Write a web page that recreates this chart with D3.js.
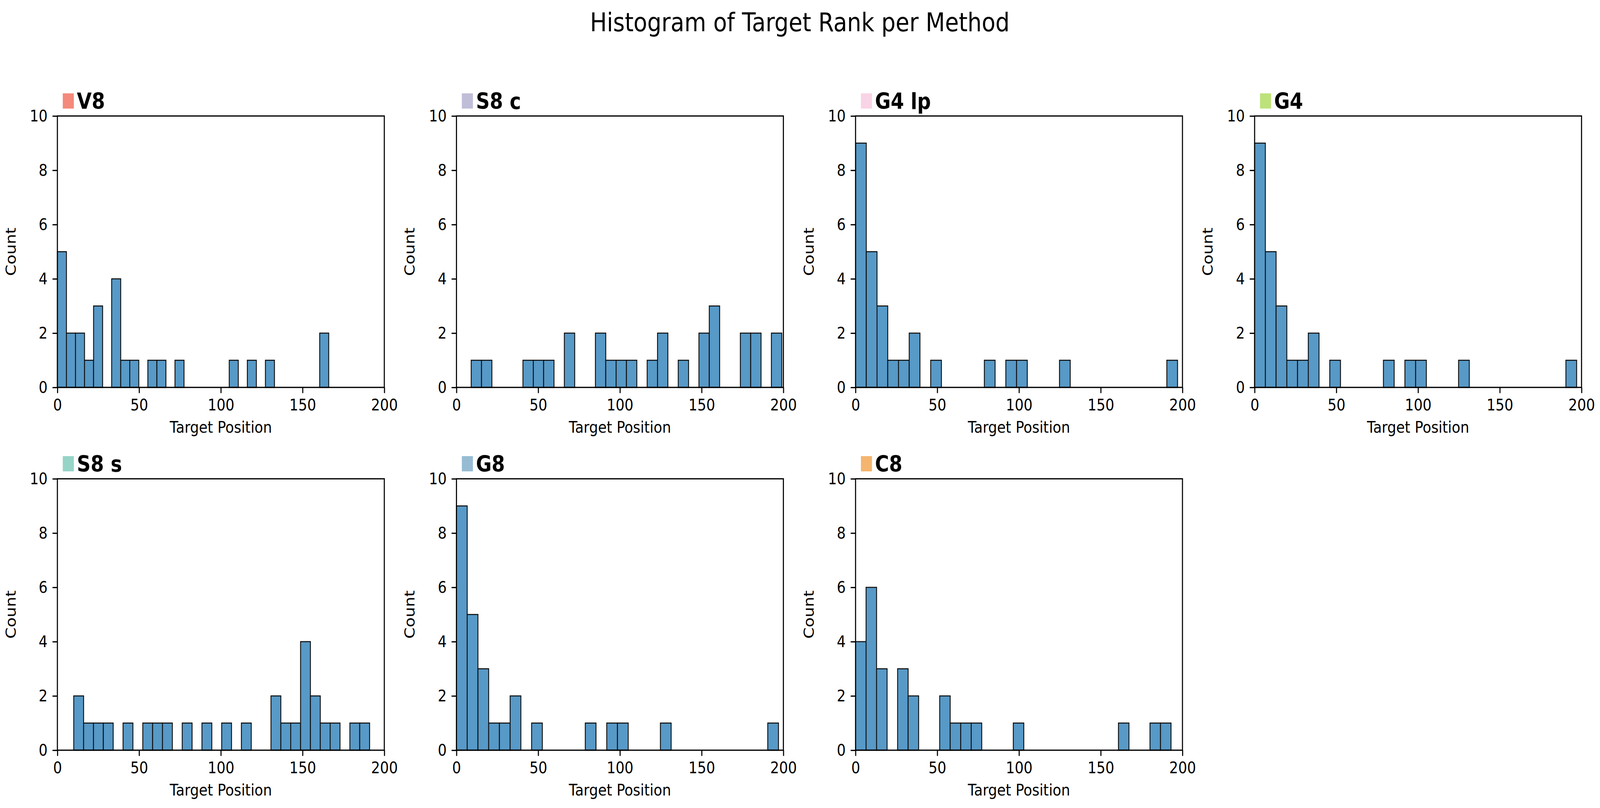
<!DOCTYPE html>
<html>
<head>
<meta charset="utf-8">
<script src="https://cdn.jsdelivr.net/npm/d3@7"></script>
<style>
  html, body { margin: 0; padding: 0; background: #fff; overflow: hidden; }
  svg { display: block; width: 100vw; height: 100vh; font-family: "DejaVu Sans", sans-serif; }
</style>
</head>
<body>
<svg id="chart" viewBox="0 0 4767 2069" preserveAspectRatio="none"></svg>
<script>
// Panel names and their swatch colours, in plotting order
var methods = ["V8", "S8 c", "G4 lp", "G4", "S8 s", "G8", "C8"];
var swatchColors = ["#f48a7b", "#c0bdd8", "#f9d3e6", "#bde27a", "#96d4c8", "#96bcd3", "#f4b56f"];

// Histogram bin range [first edge, last edge] per method (30 bins each)
var binRanges = [[0, 166], [9, 199], [0, 197], [0, 197], [10, 191], [0, 197], [0, 193]];

// Counts per bin
var countsV8   = [5,2,2,1,3,0,4,1,1,0,1,1,0,1,0,0,0,0,0,1,0,1,0,1,0,0,0,0,0,2];
var countsS8c  = [1,1,0,0,0,1,1,1,0,2,0,0,2,1,1,1,0,1,2,0,1,0,2,3,0,0,2,2,0,2];
var countsG4lp = [9,5,3,1,1,2,0,1,0,0,0,0,1,0,1,1,0,0,0,1,0,0,0,0,0,0,0,0,0,1];
var countsG4   = [9,5,3,1,1,2,0,1,0,0,0,0,1,0,1,1,0,0,0,1,0,0,0,0,0,0,0,0,0,1];
var countsS8s  = [2,1,1,1,0,1,0,1,1,1,0,1,0,1,0,1,0,1,0,0,2,1,1,4,2,1,1,0,1,1];
var countsG8   = [9,5,3,1,1,2,0,1,0,0,0,0,1,0,1,1,0,0,0,1,0,0,0,0,0,0,0,0,0,1];
var countsC8   = [4,6,3,0,3,2,0,0,2,1,1,1,0,0,0,1,0,0,0,0,0,0,0,0,0,1,0,0,1,1];
var allCounts = [countsV8, countsS8c, countsG4lp, countsG4, countsS8s, countsG8, countsC8];

var xTicks = [0, 50, 100, 150, 200];
var yTicks = [0, 2, 4, 6, 8, 10];

var svg = d3.select('#chart');

// layout (pixels, in viewBox units)
var ncol = 4;
var axLeft0 = 171, colStep = 1189, axW = 974;
var axTop0 = 297, rowStep = 929, axH = 695;
var tickFont = 41.7;
var tickLen = 14.6;

svg.append('rect').attr('width', 4767).attr('height', 2069).style('fill', '#fff');

svg.append('text')
  .attr('x', 2383)
  .attr('y', 80)
  .attr('text-anchor', 'middle')
  .style('font-size', '66.7px')
  .text('Histogram of Target Rank per Method');

methods.forEach(function (name, i) {
  var col = i % ncol, row = Math.floor(i / ncol);
  var ox = axLeft0 + col * colStep;
  var oy = axTop0 + row * rowStep;
  var counts = allCounts[i];
  var range = binRanges[i];
  var nb = counts.length;
  var bw = (range[1] - range[0]) / nb;

  var bins = counts.map(function (c, k) {
    return { x0: range[0] + k * bw, x1: range[0] + (k + 1) * bw, count: c };
  });

  var x = d3.scaleLinear().domain([0, 200]).range([0, axW]);
  var y = d3.scaleLinear().domain([0, 10]).range([axH, 0]);

  var g = svg.append('g').attr('transform', 'translate(' + ox + ',' + oy + ')');

  g.selectAll('rect.bar')
    .data(bins)
    .enter().append('rect')
    .attr('class', 'bar')
    .attr('x', function (d) { return x(d.x0); })
    .attr('width', function (d) { return x(d.x1) - x(d.x0); })
    .attr('y', function (d) { return y(d.count); })
    .attr('height', function (d) { return y(0) - y(d.count); })
    .style('fill', '#5799c7')
    .style('stroke', '#111')
    .style('stroke-width', 2.7);

  // x axis
  var xAxis = g.append('g')
    .attr('transform', 'translate(0,' + axH + ')')
    .call(d3.axisBottom(x).tickValues(xTicks).tickSize(tickLen).tickPadding(14.6));
  // y axis
  var yAxis = g.append('g')
    .call(d3.axisLeft(y).tickValues(yTicks).tickSize(tickLen).tickPadding(14.6));

  [xAxis, yAxis].forEach(function (a) {
    a.select('.domain').remove();
    a.selectAll('line').style('stroke', '#000').style('stroke-width', 3.2);
    a.selectAll('text').style('font-size', tickFont + 'px')
      .style('font-family', '"DejaVu Sans", sans-serif').attr('fill', '#000');
  });

  // frame
  g.append('rect')
    .attr('width', axW).attr('height', axH)
    .style('fill', 'none').style('stroke', '#000').style('stroke-width', 3.2);

  g.append('text')
    .attr('transform', 'translate(' + (-125) + ',' + (axH / 2) + ') rotate(-90)')
    .attr('text-anchor', 'middle')
    .style('font-size', tickFont + 'px')
    .text('Count');

  g.append('text')
    .attr('x', axW / 2)
    .attr('y', axH + 116)
    .attr('text-anchor', 'middle')
    .style('font-size', tickFont + 'px')
    .text('Target Position');

  // title: colour swatch + bold name
  g.append('rect')
    .attr('x', 16).attr('y', -58)
    .attr('width', 33).attr('height', 39)
    .style('fill', swatchColors[i]);
  g.append('text')
    .attr('x', 58).attr('y', -18)
    .style('font-size', '57px')
    .style('font-weight', 'bold')
    .text(name);
});
</script>
</body>
</html>
